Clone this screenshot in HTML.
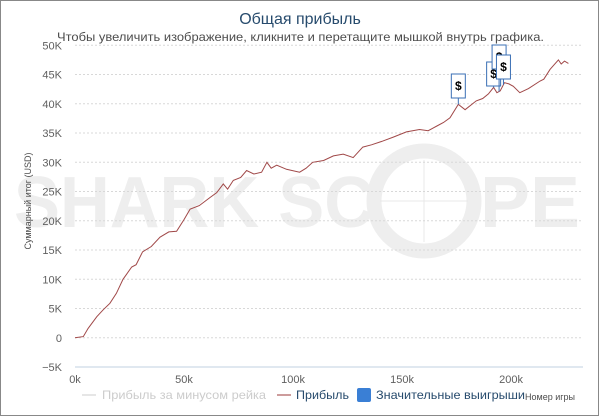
<!DOCTYPE html>
<html><head><meta charset="utf-8"><style>
html,body{margin:0;padding:0;background:#fff;}
svg{display:block;font-family:"Liberation Sans","DejaVu Sans",sans-serif;}
</style></head><body>
<svg id="chart" width="600" height="417" viewBox="0 0 600 417">
  <rect x="0.5" y="0.5" width="598" height="415" fill="#fff" stroke="#888"/>
  <g fill="#eeeeee">
    <text x="14" y="227" font-size="72" font-weight="bold" textLength="360" lengthAdjust="spacingAndGlyphs">SHARK SC</text>
    <circle cx="424" cy="201" r="50" fill="none" stroke="#eeeeee" stroke-width="15"/>
    <line x1="424" y1="160" x2="424" y2="242" stroke="#e8e8e8" stroke-width="1"/>
    <line x1="380" y1="201" x2="468" y2="201" stroke="#e8e8e8" stroke-width="1"/>
    <text x="480" y="227" font-size="72" font-weight="bold" textLength="100" lengthAdjust="spacingAndGlyphs">PE</text>
  </g>
  <text x="300" y="24" text-anchor="middle" font-size="16" fill="#274b6d">Общая прибыль</text>
  <text x="57" y="41" font-size="12" fill="#4d4d4d" textLength="487" lengthAdjust="spacingAndGlyphs">Чтобы увеличить изображение, кликните и перетащите мышкой внутрь графика.</text>
  <text transform="translate(31,201) rotate(-90)" text-anchor="middle" font-size="9" fill="#4d4d4d">Суммарный итог (USD)</text>
  <g id="grid"></g>
  <g id="yticks"></g>
  <g id="xticks"></g>
  <g id="series"></g>
  <g id="flags"></g>
  <g font-size="12">
    <g>
      <line x1="82" y1="395" x2="96" y2="395" stroke="#ccc"/>
      <text x="102" y="399" fill="#ccc" textLength="164" lengthAdjust="spacingAndGlyphs">Прибыль за минусом рейка</text>
    </g>
    <g>
      <line x1="277" y1="395" x2="291" y2="395" stroke="#9b3a3a"/>
      <text x="296" y="399" fill="#274b6d" textLength="53" lengthAdjust="spacingAndGlyphs">Прибыль</text>
    </g>
    <g>
      <rect x="357" y="388" width="14" height="14" rx="2" fill="#3a7fd5"/>
      <text x="376" y="399" fill="#274b6d" textLength="149" lengthAdjust="spacingAndGlyphs">Значительные выигрыши</text>
    </g>
  </g>
  <text x="525" y="400" font-size="9" fill="#4d4d4d">Номер игры</text>
</svg>
<script>
const yTicks=[-5,0,5,10,15,20,25,30,35,40,45,50];
const yTickLabels=["−5K","0","5K","10K","15K","20K","25K","30K","35K","40K","45K","50K"];
const xTicks=[0,50,100,150,200];
const xTickLabels=["0k","50k","100k","150k","200k"];
const gamesK=[0,3.8,6,10,13,16,19,22,26,28,31,35,39,43,46.6,50,52.8,57,62,65,68,70,72.6,76,78.7,82,85.6,88,90,92.5,97,103,106,109,114,118.5,123,127.6,132,136,141,146,152,158,162,166,169,172,175.8,178.9,184,187,189.6,192,193.5,195,197,199,201,204,208,213.3,215,217.9,221.7,223,224.5,226.3];
const profitK=[0,0.2,1.6,3.6,4.8,5.9,7.6,10,12.1,12.5,14.7,15.6,17.2,18.1,18.2,20.2,22,22.6,24,24.8,26.3,25.4,26.9,27.4,28.6,28.0,28.3,30,29.0,29.5,28.8,28.3,29.0,30,30.3,31.1,31.4,30.8,32.6,33.0,33.6,34.3,35.2,35.6,35.4,36.2,36.8,37.6,39.9,39,40.5,40.9,41.7,42.8,41.9,42.2,43.6,43.4,43.0,41.9,42.6,43.9,44.2,45.9,47.5,46.8,47.3,46.9];
const flagGamesK=[175.8,192,194.5,196.5];
const flagLabels=["$","$","$","$"];

const NS="http://www.w3.org/2000/svg";
const X0=75,X1=573,XMAX=228.4,Y0=337.8,YPER=5.85;
const xs=k=>X0+(X1-X0)*k/XMAX;
const ys=v=>Y0-v*YPER;
function mk(t,a,p){const e=document.createElementNS(NS,t);for(const k in a)e.setAttribute(k,a[k]);p.appendChild(e);return e;}
const grid=document.getElementById('grid'),yt=document.getElementById('yticks'),xt=document.getElementById('xticks');
yTicks.forEach((v,i)=>{
  const l=mk('line',{x1:X0,x2:X1+10,y1:ys(v),y2:ys(v),stroke:v===-5?'#c0d0e0':'#d8d8d8','stroke-dasharray':v===-5?'':'2,2'},grid);
  
  
  const t=mk('text',{x:62,y:ys(v)+4,'text-anchor':'end','font-size':11,fill:'#606060'},yt);
  
  
  t.textContent=yTickLabels[i];
});
xTicks.forEach((v,i)=>{
  const t=mk('text',{x:xs(v),y:383,'text-anchor':'middle','font-size':11,fill:'#606060'},xt);
  
  
  t.textContent=xTickLabels[i];
});
const ser=document.getElementById('series');
const d=gamesK.map((g,i)=>(i?'L':'M')+xs(g).toFixed(1)+','+ys(profitK[i]).toFixed(1)).join(' ');
const p=mk('path',{d:d,fill:'none',stroke:'#a04848','stroke-width':1},ser);


function interp(k){for(let i=1;i<gamesK.length;i++){if(gamesK[i]>=k){const t=(k-gamesK[i-1])/(gamesK[i]-gamesK[i-1]);return profitK[i-1]+t*(profitK[i]-profitK[i-1]);}}return profitK[profitK.length-1];}
const fl=document.getElementById('flags');
const boxTop=[74,62,45,55];
flagGamesK.forEach((k,i)=>{
  const g=mk('g',{},fl);
  
  
  const x=xs(k),y=ys(interp(k));
  const top=boxTop[i%boxTop.length];
  mk('line',{x1:x,x2:x,y1:top+24,y2:y,stroke:'#3a6fb5'},g);
  mk('rect',{x:x-7,y:top,width:14,height:24,fill:'#fff',stroke:'#3a6fb5'},g);
  const t=mk('text',{x:x,y:top+16,'text-anchor':'middle','font-size':12,'font-weight':'bold',fill:'#000'},g);
  t.textContent=flagLabels[i];
});
</script>
</body></html>
